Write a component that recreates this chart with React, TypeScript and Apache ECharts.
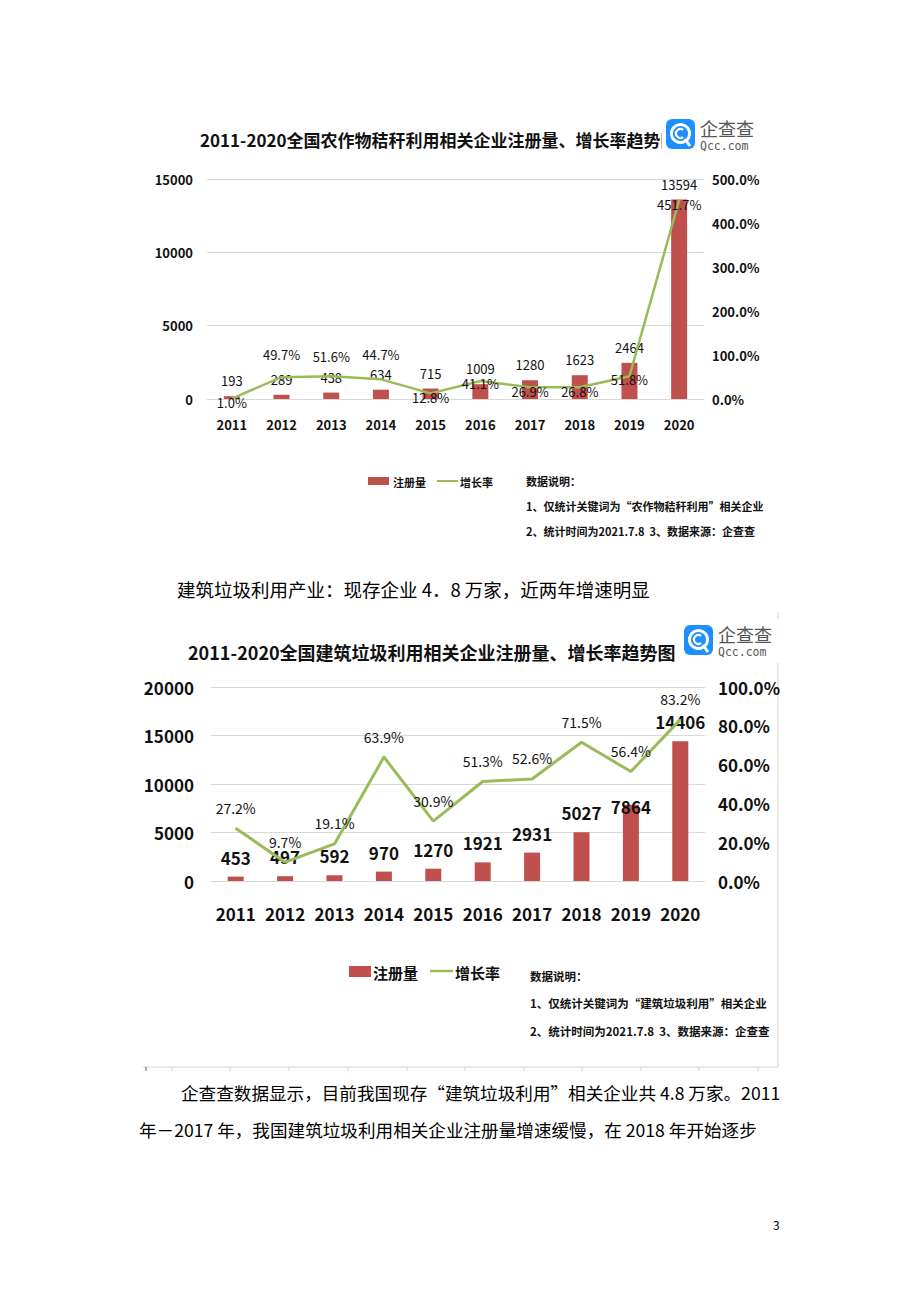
import React, { useEffect, useRef } from 'react';
import * as echarts from 'echarts';

const years = ['2011', '2012', '2013', '2014', '2015', '2016', '2017', '2018', '2019', '2020'];
const strawCounts = [193, 289, 438, 634, 715, 1009, 1280, 1623, 2464, 13594];
const strawGrowth = [1.0, 49.7, 51.6, 44.7, 12.8, 41.1, 26.9, 26.8, 51.8, 451.7];
const wasteCounts = [453, 497, 592, 970, 1270, 1921, 2931, 5027, 7864, 14406];
const wasteGrowth = [27.2, 9.7, 19.1, 63.9, 30.9, 51.3, 52.6, 71.5, 56.4, 83.2];

const strawTitle = '2011-2020全国农作物秸秆利用相关企业注册量、增长率趋势图';
const wasteTitle = '2011-2020全国建筑垃圾利用相关企业注册量、增长率趋势图';
const seriesNames = ['注册量', '增长率'];
const strawNotes = ['数据说明：', '1、仅统计关键词为“农作物秸秆利用”相关企业', '2、统计时间为2021.7.8  3、数据来源：企查查'];
const wasteNotes = ['数据说明：', '1、仅统计关键词为“建筑垃圾利用”相关企业', '2、统计时间为2021.7.8  3、数据来源：企查查'];
const heading = '建筑垃圾利用产业：现存企业 4．8 万家，近两年增速明显';
const paraLines = [
  '企查查数据显示，目前我国现存“建筑垃圾利用”相关企业共 4.8 万家。2011',
  '年－2017 年，我国建筑垃圾利用相关企业注册量增速缓慢，在 2018 年开始逐步',
];

// label vertical offsets (style only)
const strawGrowthLabelDy = [4, -23, -20, -25, 4, 3, 4, 4, 3, 4];
const wasteCountLabelDy = [0, 0, 0, 0, 0, 0, 0, 0, 21, 0];

const F = '"Noto Sans CJK SC", "Noto Sans", sans-serif';
const BAR = '#c0504d';
const LINE = '#9bbb59';
const TXT = '#111';

const plain = (v: number) => String(v);
const pct = (v: number) => v.toFixed(1) + '%';

function logo(x: number, y: number) {
  return {
    type: 'group',
    x,
    y,
    children: [
      { type: 'rect', shape: { x: -4, y: -6, width: 112, height: 44 }, style: { fill: '#fff' } },
      { type: 'rect', shape: { x: 0, y: 0, width: 29, height: 30, r: 6 }, style: { fill: '#1e8fff' } },
      { type: 'circle', shape: { cx: 14.5, cy: 14.5, r: 9 }, style: { stroke: '#fff', lineWidth: 3, fill: 'none' } },
      {
        type: 'arc',
        shape: { cx: 14.5, cy: 14.5, r: 4.5, startAngle: Math.PI * 0.3, endAngle: Math.PI * 1.7, clockwise: true },
        style: { stroke: '#fff', lineWidth: 2.2, fill: 'none' },
      },
      { type: 'line', shape: { x1: 19, y1: 20, x2: 24, y2: 27 }, style: { stroke: '#fff', lineWidth: 3 } },
      { type: 'text', x: 34, y: 9, style: { text: '企查查', fontFamily: F, fontSize: 18, fill: '#555', verticalAlign: 'middle' } },
      { type: 'text', x: 34, y: 27, style: { text: 'Qcc.com', fontFamily: '"DejaVu Sans Mono", monospace', fontSize: 11.5, fill: '#555', verticalAlign: 'middle' } },
    ],
  };
}

function txt(x: number, y: number, text: string, size: number, weight: string = 'bold', color: string = TXT) {
  return {
    type: 'text',
    x,
    y,
    style: { text, fontFamily: F, fontSize: size, fontWeight: weight, fill: color, verticalAlign: 'middle', align: 'left' },
  };
}

export default function App() {
  const ref = useRef<HTMLDivElement>(null);

  useEffect(() => {
    const chart = echarts.init(ref.current!, null, { renderer: 'svg' });

    const option: any = {
      animation: false,
      backgroundColor: '#fff',
      textStyle: { fontFamily: F },
      grid: [
        { left: 207, right: 216, top: 179, height: 220 },
        { left: 211, right: 215, top: 687, height: 194 },
      ],
      xAxis: [
        {
          type: 'category', gridIndex: 0, data: years,
          axisLine: { show: false }, axisTick: { show: false },
          axisLabel: { interval: 0, margin: 19, fontSize: 13, fontWeight: 'bold', color: TXT, fontFamily: F },
        },
        {
          type: 'category', gridIndex: 1, data: years,
          axisLine: { show: false }, axisTick: { show: false },
          axisLabel: { interval: 0, margin: 24, fontSize: 17, fontWeight: 'bold', color: TXT, fontFamily: F },
        },
      ],
      yAxis: [
        {
          type: 'value', gridIndex: 0, min: 0, max: 15000, interval: 5000,
          axisLine: { show: false }, axisTick: { show: false },
          splitLine: { lineStyle: { color: '#d9d9d9', width: 1 } },
          axisLabel: { margin: 14, fontSize: 13, fontWeight: 'bold', color: TXT, fontFamily: F, formatter: plain },
        },
        {
          type: 'value', gridIndex: 0, min: 0, max: 500, interval: 100, position: 'right',
          axisLine: { show: false }, axisTick: { show: false }, splitLine: { show: false },
          axisLabel: { margin: 8, fontSize: 13, fontWeight: 'bold', color: TXT, fontFamily: F, formatter: pct },
        },
        {
          type: 'value', gridIndex: 1, min: 0, max: 20000, interval: 5000,
          axisLine: { show: false }, axisTick: { show: false },
          splitLine: { lineStyle: { color: '#d9d9d9', width: 1 } },
          axisLabel: { margin: 17, fontSize: 17, fontWeight: 'bold', color: TXT, fontFamily: F, formatter: plain },
        },
        {
          type: 'value', gridIndex: 1, min: 0, max: 100, interval: 20, position: 'right',
          axisLine: { show: false }, axisTick: { show: false }, splitLine: { show: false },
          axisLabel: { margin: 13, fontSize: 17, fontWeight: 'bold', color: TXT, fontFamily: F, formatter: pct },
        },
      ],
      series: [
        {
          name: seriesNames[0], type: 'bar', xAxisIndex: 0, yAxisIndex: 0, barWidth: 16,
          itemStyle: { color: BAR },
          data: strawCounts,
          label: { show: true, position: 'top', distance: 9, fontSize: 13, color: TXT, fontFamily: F },
          z: 2,
        },
        {
          name: seriesNames[1], type: 'line', xAxisIndex: 0, yAxisIndex: 1,
          symbol: 'circle', symbolSize: 1, showSymbol: true,
          lineStyle: { color: LINE, width: 2.5 }, itemStyle: { color: LINE },
          data: strawGrowth.map((v, i) => ({
            value: v,
            label: { show: true, position: 'inside', offset: [0, strawGrowthLabelDy[i]] },
          })),
          label: { fontSize: 13, color: TXT, fontFamily: F, formatter: (p: any) => pct(p.value) },
          z: 3,
        },
        {
          name: seriesNames[0], type: 'bar', xAxisIndex: 1, yAxisIndex: 2, barWidth: 16,
          itemStyle: { color: BAR },
          data: wasteCounts.map((v, i) => ({ value: v, label: { offset: [0, wasteCountLabelDy[i]] } })),
          label: { show: true, position: 'top', distance: 11, fontSize: 17, fontWeight: 'bold', color: TXT, fontFamily: F },
          z: 2,
        },
        {
          name: seriesNames[1], type: 'line', xAxisIndex: 1, yAxisIndex: 3,
          symbol: 'circle', symbolSize: 1, showSymbol: true,
          lineStyle: { color: LINE, width: 3 }, itemStyle: { color: LINE },
          data: wasteGrowth,
          label: { show: true, position: 'top', distance: 13, fontSize: 14, color: TXT, fontFamily: F, formatter: (p: any) => pct(p.value) },
          z: 3,
        },
      ],
      graphic: [
        // chart 1 title & logo
        txt(200, 139, strawTitle, 17),
        logo(666, 119),
        // chart 1 legend
        { type: 'rect', shape: { x: 368, y: 477, width: 21, height: 8 }, style: { fill: BAR } },
        txt(393, 482, seriesNames[0], 11),
        { type: 'line', shape: { x1: 437, y1: 481, x2: 458, y2: 481 }, style: { stroke: LINE, lineWidth: 2 } },
        txt(460, 482, seriesNames[1], 11),
        txt(526, 481, strawNotes[0], 11),
        txt(526, 506, strawNotes[1], 11),
        txt(526, 531, strawNotes[2], 11),
        // heading
        txt(177, 589, heading, 18.5, 'normal', '#000'),
        // chart 2 frame
        { type: 'line', shape: { x1: 778, y1: 612, x2: 778, y2: 1067 }, style: { stroke: '#d6d6d6', lineWidth: 1 } },
        { type: 'line', shape: { x1: 143, y1: 1067, x2: 778, y2: 1067 }, style: { stroke: '#d6d6d6', lineWidth: 1 } },
        ...[146, 172, 230, 289, 348, 407, 465, 524, 582, 641, 699, 758].map((x, i) => ({
          type: 'line',
          shape: { x1: x, y1: 1067, x2: x, y2: 1071 },
          style: { stroke: i === 0 ? '#555' : '#d0d0d0', lineWidth: 1 },
        })),
        // chart 2 title & logo
        txt(188, 652, wasteTitle, 18),
        logo(684, 625),
        // chart 2 legend
        { type: 'rect', shape: { x: 349, y: 966, width: 22, height: 11 }, style: { fill: BAR } },
        txt(373, 972, seriesNames[0], 15),
        { type: 'line', shape: { x1: 430, y1: 971, x2: 453, y2: 971 }, style: { stroke: LINE, lineWidth: 2.5 } },
        txt(455, 972, seriesNames[1], 15),
        txt(530, 976, wasteNotes[0], 11.5),
        txt(530, 1003, wasteNotes[1], 11.5),
        txt(530, 1031, wasteNotes[2], 11.5),
        // paragraph
        txt(181, 1092, paraLines[0], 17.6, 'normal', '#000'),
        txt(139, 1129, paraLines[1], 17.6, 'normal', '#000'),
        txt(773, 1224, '3', 12, 'normal', '#000'),
      ],
    };

    chart.setOption(option);
    return () => chart.dispose();
  }, []);

  return (
    <div
      ref={ref}
      style={{ position: 'absolute', left: 0, top: 0, width: 920, height: 1302, background: '#fff' }}
    />
  );
}
